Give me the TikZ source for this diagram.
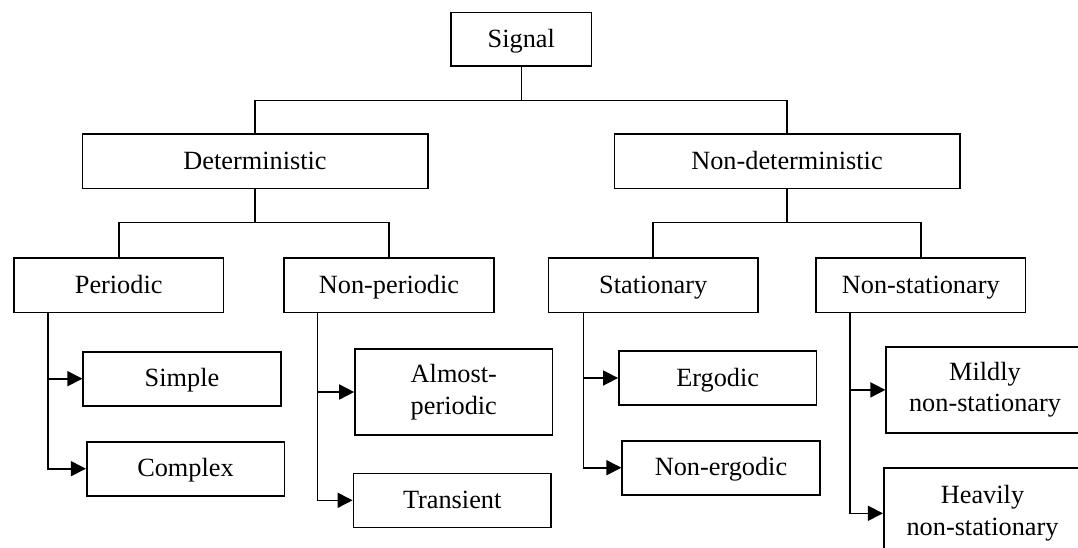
\documentclass[tikz,border=0pt]{standalone}
\usepackage{fontspec}
\setmainfont{Liberation Serif}
\usetikzlibrary{arrows.meta}
\tikzset{
    cbox/.style={
        draw,
        line width=1.6pt,
        inner sep=0pt,
        align=center,
        font=\fontsize{26.3}{31.5}\selectfont},
    oneline/.style={text height=19pt, text depth=3pt},
    upbox/.style={cbox, oneline, minimum width=345.4pt, minimum height=54.3pt},
    midbox/.style={cbox, oneline, minimum width=209.5pt, minimum height=54.6pt},
    leafbox/.style={cbox, minimum width=197.6pt, minimum height=54pt},
    link/.style={line width=1.6pt},
    arr/.style={
        link,
        -{Triangle[length=15pt,width=15pt]}}}

\begin{document}
\begin{tikzpicture}[x=1pt,y=-1pt]
    \useasboundingbox (0,0) rectangle (1078,548);
    \clip (0,0) rectangle (1078,548);

    \node[cbox,oneline,minimum width=140.7pt,minimum height=53.7pt] (signal) at (521.3,39.2) {Signal};
    \node[upbox] (det) at (255,161.2) {Deterministic};
    \node[upbox] (nondet) at (787,161.2) {Non-deterministic};

    \node[midbox] (periodic) at (118.7,285) {Periodic};
    \node[midbox] (nonperiodic) at (389,285) {Non-periodic};
    \node[midbox] (stationary) at (653.2,285) {Stationary};
    \node[midbox] (nonstationary) at (920.8,285) {Non-stationary};

    \node[leafbox,oneline] (simple) at (182,378.7) {Simple};
    \node[leafbox,oneline] (complex) at (185.5,468.7) {Complex};
    \node[leafbox,minimum height=86pt] (almost) at (453.8,392) {Almost-\\periodic};
    \node[leafbox,oneline] (transient) at (452.2,500.3) {Transient};
    \node[leafbox,oneline] (ergodic) at (717.7,378) {Ergodic};
    \node[leafbox,oneline] (nonergodic) at (721,467.7) {Non-ergodic};
    \node[leafbox,minimum height=86.3pt] (mildly) at (985,389.9) {Mildly\\non-stationary};
    \node[leafbox,minimum height=90.6pt] (heavily) at (982.5,513.3) {Heavily\\non-stationary};

    % tree joints
    \coordinate (j0) at (521.3,100.7);
    \coordinate (j1) at (255,222.3);
    \coordinate (j2) at (787,222.3);

    \draw[link] (signal.south) -- (j0);
    \draw[link] (det.north) |- (j0) -| (nondet.north);
    \draw[link] (det.south) -- (j1);
    \draw[link] (periodic.north) |- (j1) -| (nonperiodic.north);
    \draw[link] (nondet.south) -- (j2);
    \draw[link] (stationary.north) |- (j2) -| (nonstationary.north);

    % stems with arrows
    \coordinate (pstem) at ([xshift=35pt]periodic.south west);
    \coordinate (npstem) at ([xshift=34pt]nonperiodic.south west);
    \coordinate (sstem) at ([xshift=36pt]stationary.south west);
    \coordinate (nsstem) at ([xshift=35pt]nonstationary.south west);

    \draw[arr] (pstem) |- (complex.west);
    \draw[arr] (pstem |- simple.west) -- (simple.west);
    \draw[arr] (npstem) |- (transient.west);
    \draw[arr] (npstem |- almost.west) -- (almost.west);
    \draw[arr] (sstem) |- (nonergodic.west);
    \draw[arr] (sstem |- ergodic.west) -- (ergodic.west);
    \draw[arr] (nsstem) |- (heavily.west);
    \draw[arr] (nsstem |- mildly.west) -- (mildly.west);
\end{tikzpicture}
\end{document}
